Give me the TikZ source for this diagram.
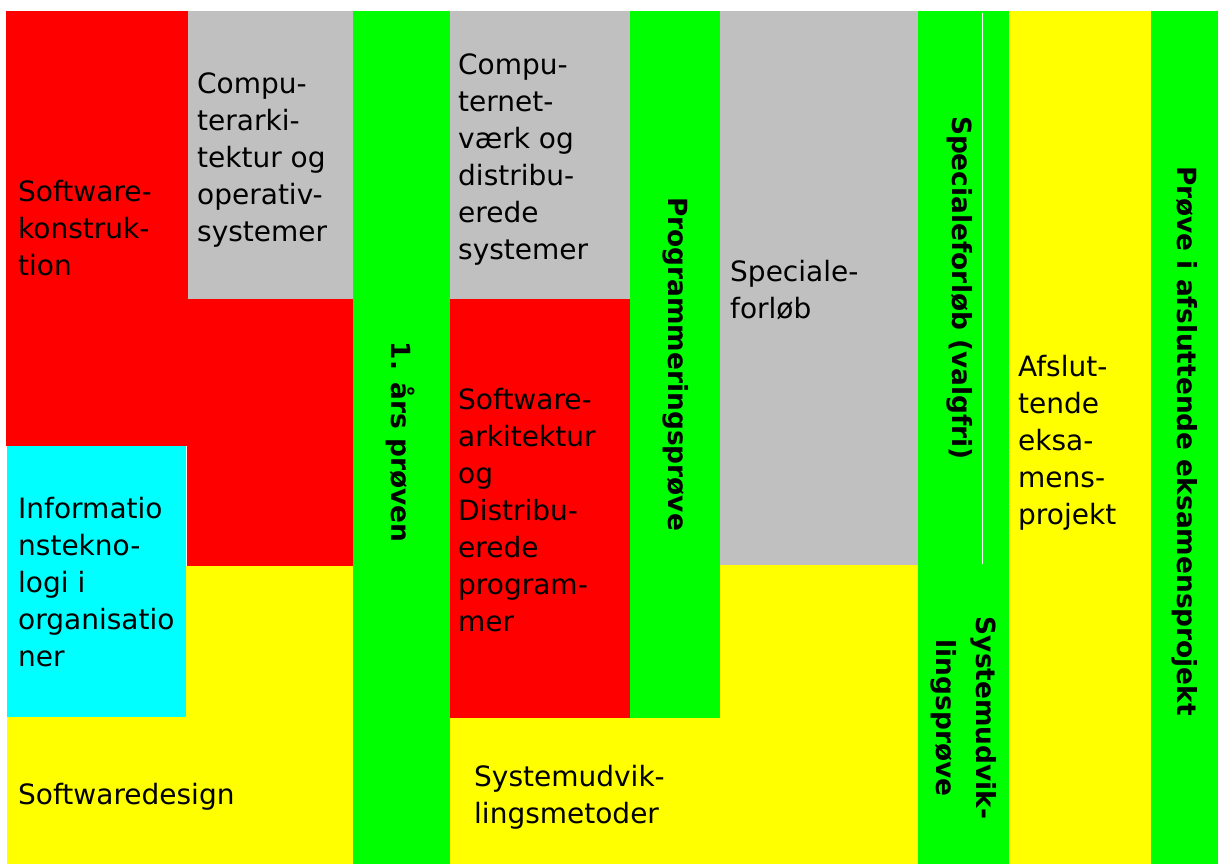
\documentclass[tikz,border=0pt]{standalone}
\usepackage{fontspec}
\setmainfont{DejaVu Sans}
\definecolor{cred}{HTML}{FF0000}
\definecolor{cgray}{HTML}{C0C0C0}
\definecolor{cgreen}{HTML}{00FF00}
\definecolor{ccyan}{HTML}{00FFFF}
\definecolor{cyel}{HTML}{FFFF00}
\begin{document}
\begin{tikzpicture}[x=1pt,y=-1pt,
  lbl/.style={anchor=base west,inner sep=0pt,align=left,font=\fontsize{28}{37}\selectfont},
  vlbl/.style={rotate=-90,inner sep=0pt,align=center,font=\fontsize{26.4}{40}\selectfont\bfseries}]
\useasboundingbox (0,0) rectangle (1218,864);
% backgrounds
\fill[cred] (6,11) rectangle (188,446);
\fill[cred] (187,299) rectangle (353,566);
\fill[cgray] (188,11) rectangle (353,299);
\fill[ccyan] (7,446) rectangle (186,717);
\fill[cyel] (7,717) rectangle (353,864);
\fill[cyel] (186,566) rectangle (353,717);
\fill[cgreen] (353,11) rectangle (450,864);
\fill[cgray] (450,11) rectangle (630,299);
\fill[cred] (450,299) rectangle (630,718);
\fill[cgreen] (630,11) rectangle (720,718);
\fill[cgray] (720,11) rectangle (918,565);
\fill[cyel] (720,565) rectangle (918,718);
\fill[cyel] (450,718) rectangle (918,864);
\fill[cgreen] (918,11) rectangle (1009,864);
\draw[white,line width=1.2pt] (982.5,13) -- (982.5,564);
\fill[cyel] (1009,11) rectangle (1151,864);
\fill[cgreen] (1151,11) rectangle (1218,864);
% labels (anchor = baseline of the last line)
\node[lbl] (swk) at (18,275) {Software-\\konstruk-\\tion};
\node[lbl] (cas) at (197,241) {Compu-\\terarki-\\tektur og\\operativ-\\systemer};
\node[lbl] (ito) at (18,666) {Informatio\\nstekno-\\logi i\\organisatio\\ner};
\node[lbl] (swd) at (18,804) {Softwaredesign};
\node[lbl] (cnd) at (458,259) {Compu-\\ternet-\\værk og\\distribu-\\erede\\systemer};
\node[lbl] (sad) at (458,631) {Software-\\arkitektur\\og\\Distribu-\\erede\\program-\\mer};
\node[lbl] (sum) at (474,823) {Systemudvik-\\lingsmetoder};
\node[lbl] (spf) at (730,318) {Speciale-\\forløb};
\node[lbl] (aep) at (1018,524) {Afslut-\\tende\\eksa-\\mens-\\projekt};
\node[vlbl] (aar) at (400,442) {1. års prøven};
\node[vlbl] (pgp) at (676,364) {Programmeringsprøve};
\node[vlbl] (spv) at (960,288) {Specialeforløb (valgfri)};
\node[vlbl] (sup) at (964,718) {Systemudvik-\\lingsprøve};
\node[vlbl] (pae) at (1185,441) {Prøve i afsluttende eksamensprojekt};
\end{tikzpicture}
\end{document}
